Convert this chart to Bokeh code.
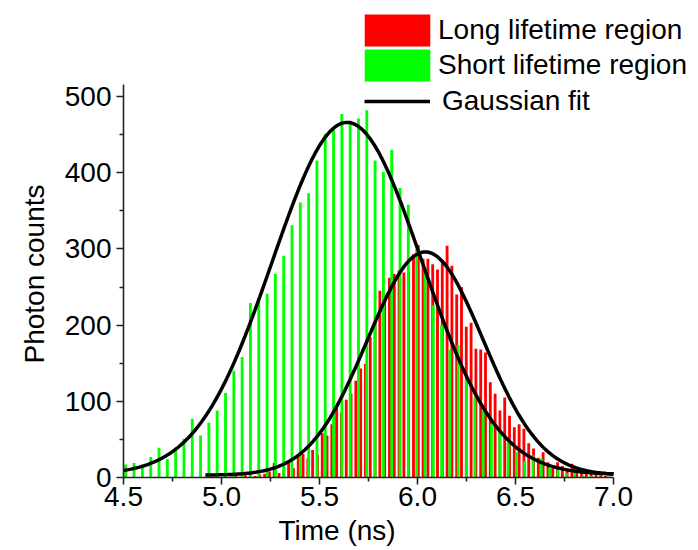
import numpy as np
from bokeh.plotting import figure
from bokeh.models import (Range1d, FixedTicker, NumeralTickFormatter, Legend,
                          LegendItem, Title, ColumnDataSource)
from bokeh.embed import file_html
from bokeh.resources import INLINE

# ---- data ----
# Short lifetime region histogram (green): regular bins
short_start = 4.5117   # centre of first bin (ns)
short_bin = 0.0424     # bin spacing (ns)
short_counts = [17, 19, 17, 27, 39, 24, 36, 51, 77, 55,
                72, 88, 111, 140, 158, 229, 235, 241, 267, 291,
                331, 361, 373, 416, 451, 458, 477, 464, 471, 482,
                416, 401, 430, 380, 358, 300, 276, 226, 200, 168,
                174, 130, 105, 88, 70, 62, 46, 33, 21, 29,
                25, 12, 10, 6, 12, 3, 2, 1, 1]

# Long lifetime region histogram (red): regular bins
long_start = 4.926
long_bin = 0.0245
long_counts = [1, 0, 1, 0, 1, 1, 2, 1, 3, 6,
               2, 4, 5, 8, 19, 6, 10, 20, 12, 28,
               31, 25, 36, 30, 58, 55, 70, 94, 85, 102,
               110, 127, 143, 149, 184, 204, 245, 240, 262, 267,
               272, 269, 270, 293, 305, 287, 287, 280, 273, 285,
               304, 278, 240, 250, 198, 203, 169, 168, 164, 125,
               110, 88, 105, 81, 66, 70, 64, 45, 38, 26,
               33, 20, 16, 20, 15, 11, 18, 10, 8, 9,
               8, 5, 4, 2, 1]

# Gaussian fit parameters (y0, A, xc, sigma)
short_fit = dict(y0=4.0, A=462.0, xc=5.641, w=0.381)
long_fit = dict(y0=3.0, A=293.0, xc=6.04, w=0.295)
short_fit_range = (4.5, 7.0)
long_fit_range = (4.918, 7.0)

x_ticks = [4.5, 5.0, 5.5, 6.0, 6.5, 7.0]
x_minor = [4.75, 5.25, 5.75, 6.25, 6.75]
y_ticks = [0, 100, 200, 300, 400, 500]
y_minor = [50, 150, 250, 350, 450]
x_axis_span = (4.5, 7.0)      # drawn extent of the x axis
y_axis_span = (0, 515.7)      # drawn extent of the y axis
x_view = (4.5, 7.4337)        # frame reaches the right page edge (legend room)
y_view = (0, 626.0)           # frame reaches the top page edge (legend room)

FONT = "Liberation Sans"
FS = "28px"

short_t = short_start + short_bin * np.arange(len(short_counts))
long_t = long_start + long_bin * np.arange(len(long_counts))


def gauss(t, y0, A, xc, w):
    return y0 + A * np.exp(-0.5 * ((t - xc) / w) ** 2)


ts = np.linspace(*short_fit_range, 400)
tl = np.linspace(*long_fit_range, 400)

p = figure(width=698, height=550, output_backend="svg", toolbar_location=None,
           x_range=Range1d(*x_view), y_range=Range1d(*y_view),
           min_border_left=123, min_border_right=0, min_border_top=0,
           min_border_bottom=73)
p.outline_line_color = None
p.xgrid.visible = False
p.ygrid.visible = False
p.background_fill_color = "white"

red_src = ColumnDataSource(dict(x=long_t, top=long_counts))
green_src = ColumnDataSource(dict(x=short_t, top=short_counts))

red_r = p.vbar(x="x", top="top", width=0.0145, bottom=0, source=red_src,
               fill_color="#ff0000", line_color=None)
green_r = p.vbar(x="x", top="top", width=0.0145, bottom=0, source=green_src,
                 fill_color="#00ff00", line_color=None)

fit_s = p.line(ts, gauss(ts, **short_fit), line_color="black", line_width=3.5)
fit_l = p.line(tl, gauss(tl, **long_fit), line_color="black", line_width=3.5)

for ax in (p.xaxis[0], p.yaxis[0]):
    ax.axis_line_color = "#222222"
    ax.axis_line_width = 1.6
    ax.major_tick_line_color = "#222222"
    ax.minor_tick_line_color = "#222222"
    ax.major_tick_line_width = 1.6
    ax.minor_tick_line_width = 1.6
    ax.major_tick_in = 0
    ax.major_tick_out = 7
    ax.minor_tick_in = 0
    ax.minor_tick_out = 4
    ax.major_label_text_font = FONT
    ax.major_label_text_font_size = FS
    ax.major_label_text_color = "black"

p.xaxis.ticker = FixedTicker(ticks=x_ticks, minor_ticks=x_minor)
p.xaxis.formatter = NumeralTickFormatter(format="0.0")
p.xaxis.bounds = x_axis_span
p.xaxis.major_label_standoff = 2
p.yaxis.ticker = FixedTicker(ticks=y_ticks, minor_ticks=y_minor)
p.yaxis.bounds = y_axis_span
p.yaxis.major_label_standoff = 5

xtitle = Title(text="Time (ns)", align="left", offset=155, standoff=8,
               text_font=FONT, text_font_size=FS, text_font_style="normal",
               text_color="black")
p.add_layout(xtitle, "below")
ytitle = Title(text="Photon counts", align="left", offset=114, standoff=24,
               text_font=FONT, text_font_size=FS, text_font_style="normal",
               text_color="black")
p.add_layout(ytitle, "left")


def one_legend(label, renderer, loc, gw, gh, standoff):
    return Legend(items=[LegendItem(label=label, renderers=[renderer])],
                  location=loc, glyph_width=gw, glyph_height=gh,
                  padding=0, margin=0, label_standoff=standoff, label_height=gh,
                  border_line_color=None, background_fill_alpha=0,
                  label_text_font=FONT, label_text_font_size=FS,
                  label_text_color="black")


p.add_layout(one_legend("Long lifetime region", red_r, (233, 427), 82, 40, 0), "center")
p.add_layout(one_legend("Short lifetime region", green_r, (233, 392), 82, 40, 0), "center")
p.add_layout(one_legend("Gaussian fit", fit_s, (241, 360), 66, 32, 12), "center")

open("out.html", "w").write(file_html(p, INLINE))
